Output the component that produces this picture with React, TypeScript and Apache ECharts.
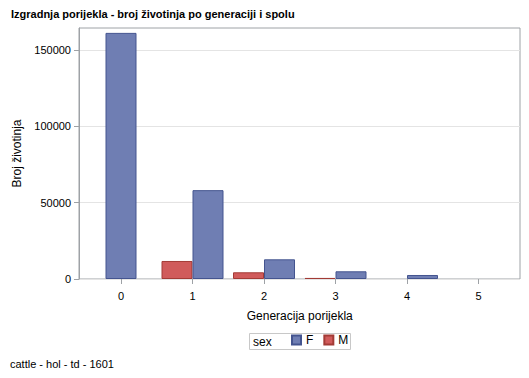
import React, { useEffect, useRef } from "react";
import * as echarts from "echarts";

const categories = ["0", "1", "2", "3", "4", "5"];
const valuesF = [null, 58200, 12900, 5050, 2620, null];
const valuesM = [null, 11800, 4400, 700, null, null];
const valuesF0 = [161200, null, null, null, null, null];
const yTicks = [0, 50000, 100000, 150000];

const titleText = "Izgradnja porijekla - broj životinja po generaciji i spolu";
const footText = "cattle - hol - td - 1601";
const FONT = "'Liberation Sans', Arial, sans-serif";
const FRAME = "#9EA2A6";

export default function App() {
  const ref = useRef<HTMLDivElement>(null);
  useEffect(() => {
    if (!ref.current) return;
    const chart = echarts.init(ref.current, undefined, { renderer: "svg" });
    const fStyle = { color: "#6F7EB3", borderColor: "#44548F", borderWidth: 1 };
    const mStyle = { color: "#D05B5B", borderColor: "#A33B36", borderWidth: 1 };
    chart.setOption({
      animation: false,
      textStyle: { fontFamily: FONT },
      grid: [
        { left: 79, top: 28, width: 441, height: 251, show: true, borderColor: FRAME, borderWidth: 1, backgroundColor: "transparent" },
        { left: 85.25, top: 28, width: 429, height: 251 },
      ],
      xAxis: [
        { type: "value", gridIndex: 0, show: false },
        {
          type: "category",
          gridIndex: 1,
          data: categories,
          axisLine: { show: false },
          axisTick: { show: true, alignWithLabel: true, length: 5, lineStyle: { color: FRAME } },
          axisLabel: { color: "#000", fontSize: 11, margin: 11, fontFamily: FONT },
          name: "Generacija porijekla",
          nameLocation: "middle",
          nameGap: 31,
          nameTextStyle: { color: "#000", fontSize: 12, fontFamily: FONT },
        },
        { type: "category", gridIndex: 1, data: categories, show: false },
      ],
      yAxis: [
        {
          type: "value",
          gridIndex: 0,
          min: 0,
          max: 164400,
          interval: 50000,
          axisLine: { show: true, lineStyle: { color: FRAME } },
          axisTick: { show: true, length: 5, customValues: yTicks, lineStyle: { color: FRAME } },
          axisLabel: { color: "#000", fontSize: 11, margin: 8, customValues: yTicks, fontFamily: FONT, formatter: (v: number) => String(v) },
          splitLine: { show: true, lineStyle: { color: "#E4E4E4", width: 1 } },
          name: "Broj životinja",
          nameLocation: "middle",
          nameRotate: 90,
          nameGap: 55,
          nameTextStyle: { color: "#000", fontSize: 12, fontFamily: FONT },
        },
        { type: "value", gridIndex: 1, min: 0, max: 164400, show: false },
      ],
      legend: {
        data: ["F", "M"],
        left: 291,
        top: 334,
        padding: 0,
        itemWidth: 9,
        itemHeight: 9,
        itemGap: 10,
        icon: "rect",
        textStyle: { color: "#000", fontSize: 12, fontFamily: FONT },
      },
      graphic: [
        { type: "text", x: 11, y: 14, style: { text: titleText, font: `bold 11px ${FONT}`, fill: "#000", textVerticalAlign: "middle" } },
        { type: "text", x: 10, y: 364, style: { text: footText, font: `11px ${FONT}`, fill: "#000", textVerticalAlign: "middle" } },
        { type: "rect", shape: { x: 249.5, y: 333.5, width: 101, height: 16 }, style: { fill: "none", stroke: "#C8C8C8", lineWidth: 1 } },
        { type: "text", x: 253, y: 341.5, style: { text: "sex", font: `12px ${FONT}`, fill: "#000", textVerticalAlign: "middle" } },
      ],
      series: [
        { name: "M", type: "bar", xAxisIndex: 1, yAxisIndex: 1, data: valuesM, barWidth: 31, barGap: "0%", itemStyle: mStyle },
        { name: "F", type: "bar", xAxisIndex: 1, yAxisIndex: 1, data: valuesF, barWidth: 31, barGap: "0%", itemStyle: fStyle },
        { name: "F", type: "bar", xAxisIndex: 2, yAxisIndex: 1, data: valuesF0, barWidth: 31, itemStyle: fStyle },
      ],
    });
    return () => chart.dispose();
  }, []);
  return <div ref={ref} style={{ width: 529, height: 378, position: "absolute", left: 0, top: 0 }} />;
}
